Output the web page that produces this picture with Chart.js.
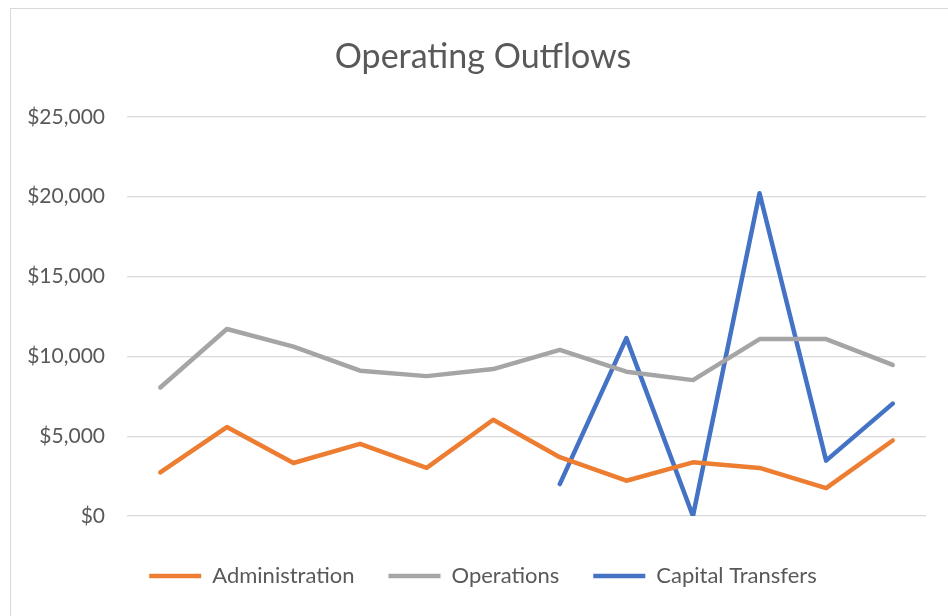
<!DOCTYPE html>
<html>
<head>
<meta charset="utf-8">
<script src="https://cdn.jsdelivr.net/npm/chart.js@4.4.1/dist/chart.umd.min.js"></script>
<style>
  html, body { margin: 0; padding: 0; background: #fff; }
  #wrap { position: relative; width: 948px; height: 616px; }
  #frame { position: absolute; left: 10px; top: 8px; width: 948px; height: 620px; border: 1px solid #d9d9d9; box-sizing: border-box; pointer-events: none; }
</style>
</head>
<body>
<div id="wrap">
  <canvas id="outflows" width="948" height="616"></canvas>
  <div id="frame"></div>
</div>
<script>
// Operating Outflows — three monthly series, 12 periods (no x labels shown)
const periods = ['1', '2', '3', '4', '5', '6', '7', '8', '9', '10', '11', '12'];
const administration = [2730, 5570, 3320, 4520, 3010, 6030, 3680, 2210, 3360, 3010, 1750, 4730];
const operations     = [8050, 11710, 10610, 9100, 8760, 9200, 10400, 9040, 8510, 11080, 11080, 9460];
const capitalTransfers = [null, null, null, null, null, null, 2000, 11140, 0, 20210, 3470, 7040];
const yTicks = [0, 5000, 10000, 15000, 20000, 25000];

const FONT = 'Lato, "Open Sans", sans-serif';
const TEXT = '#595959';

function lineSet(label, data, color) {
  return {
    label, data,
    borderColor: color,
    backgroundColor: color,
    borderWidth: 4.5,
    pointRadius: 0,
    pointHoverRadius: 0,
    borderCapStyle: 'round',
    borderJoinStyle: 'round',
    tension: 0,
    spanGaps: false
  };
}

// title and legend are centred on the outer frame, not on the canvas
const centreOnFrame = {
  id: 'centreOnFrame',
  afterLayout(chart) {
    [chart.titleBlock, chart.legend].forEach(b => {
      if (b) { b.left = 40; b.width = b.right - b.left; }
    });
  }
};

const ctx = document.getElementById('outflows').getContext('2d');
new Chart(ctx, {
  type: 'line',
  data: {
    labels: periods,
    datasets: [
      lineSet('Administration', administration, '#ED7D31'),
      lineSet('Operations', operations, '#A5A5A5'),
      lineSet('Capital Transfers', capitalTransfers, '#4472C4')
    ]
  },
  plugins: [centreOnFrame],
  options: {
    responsive: false,
    animation: false,
    layout: { padding: { left: 0, right: 22, top: 0, bottom: 19 } },
    plugins: {
      title: {
        display: true,
        text: 'Operating Outflows',
        color: TEXT,
        font: { family: FONT, size: 34, weight: 'normal', lineHeight: 1.2 },
        padding: { top: 37, bottom: 39 }
      },
      legend: {
        position: 'bottom',
        labels: {
          color: TEXT,
          font: { family: FONT, size: 22 },
          usePointStyle: true,
          pointStyle: 'line',
          pointStyleWidth: 52,
          padding: 34
        }
      },
      tooltip: { enabled: false }
    },
    scales: {
      x: {
        offset: true,
        grid: { display: false },
        border: { display: false },
        ticks: { display: false },
        afterFit: s => { s.height = 15; }
      },
      y: {
        min: 0,
        max: 25000,
        afterBuildTicks: s => { s.ticks = yTicks.map(v => ({ value: v })); },
        grid: { color: '#d9d9d9', lineWidth: 1.3, drawTicks: false },
        border: { display: false },
        ticks: {
          color: TEXT,
          padding: 22,
          font: { family: FONT, size: 21 },
          callback: v => '$' + v.toLocaleString('en-US')
        },
        afterFit: s => { s.width = 127; }
      }
    }
  }
});
</script>
</body>
</html>
